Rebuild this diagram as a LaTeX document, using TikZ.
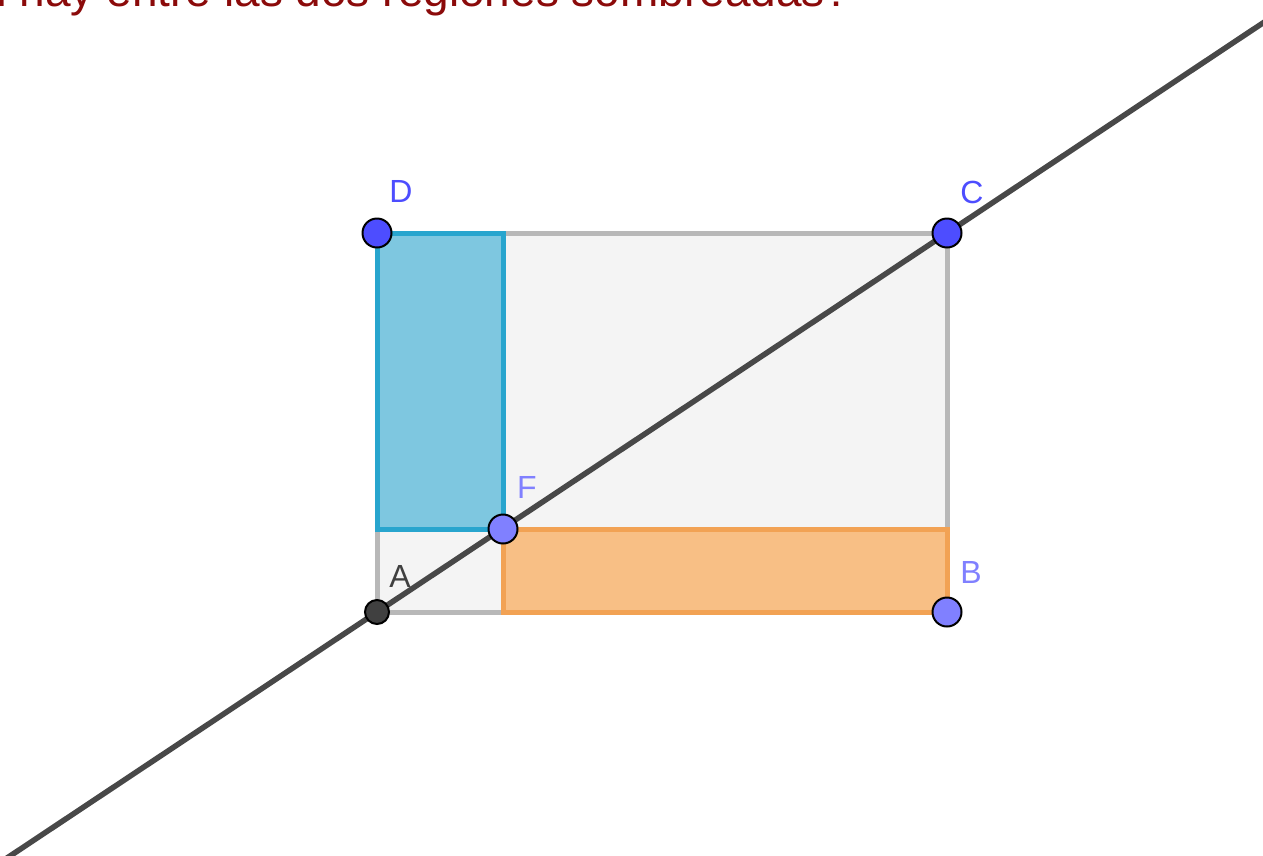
\documentclass[tikz,border=0pt]{standalone}
\usepackage{fontspec}
\setmainfont{Liberation Sans}
\usetikzlibrary{calc}
\definecolor{titlered}{RGB}{139,10,10}
\definecolor{greyfill}{RGB}{244,244,244}
\definecolor{greyedge}{RGB}{184,184,184}
\definecolor{bluefill}{RGB}{126,199,224}
\definecolor{blueedge}{RGB}{40,165,206}
\definecolor{orfill}{RGB}{248,191,133}
\definecolor{oredge}{RGB}{242,162,84}
\definecolor{linegrey}{RGB}{72,72,72}
\definecolor{ptdark}{RGB}{77,77,255}
\definecolor{ptlight}{RGB}{128,128,255}
\definecolor{ptA}{RGB}{64,64,64}
\tikzset{
  rectgrey/.style={fill=greyfill, draw=greyedge, line width=5pt},
  bluebox/.style={fill=bluefill, draw=blueedge, line width=5pt},
  orangebox/.style={fill=orfill, draw=oredge, line width=5pt},
  mainline/.style={draw=linegrey, line width=5.5pt},
  ptbig/.style={circle, draw=black, line width=2pt, inner sep=0pt, minimum size=29pt},
  ptsmall/.style={circle, draw=black, line width=2pt, inner sep=0pt, minimum size=24pt},
  lbl/.style={inner sep=0pt, font=\fontsize{32}{38}\selectfont},
}
\begin{document}
\begin{tikzpicture}[x=1pt,y=-1pt]
\useasboundingbox (0,0) rectangle (1263,855);
\clip (0,0) rectangle (1263,855);
\fill[white] (0,0) rectangle (1263,855);
\coordinate (A) at (377,612);
\coordinate (B) at (947,612);
\coordinate (C) at (947,233);
\coordinate (D) at (377,233);
\coordinate (F) at (503,529);
\coordinate (L1) at ($(A)!-0.65!(C)$);
\coordinate (L2) at ($(A)!1.56!(C)$);
\draw[rectgrey] (A) rectangle (C);
\draw[bluebox] (D) rectangle (F);
\draw[orangebox] (F) rectangle (B);
\draw[mainline] (L1) -- (L2);
\node[ptsmall, fill=ptA] (pA) at (A) {};
\node[ptbig, fill=ptlight] (pB) at (B) {};
\node[ptbig, fill=ptdark] (pC) at (C) {};
\node[ptbig, fill=ptdark] (pD) at (D) {};
\node[ptbig, fill=ptlight] (pF) at (F) {};
\node[lbl, text=ptA] (lA) at (400,576) {A};
\node[lbl, text=ptlight] (lB) at (971,572) {B};
\node[lbl, text=ptdark] (lC) at (972,192) {C};
\node[lbl, text=ptdark] (lD) at (401,191) {D};
\node[lbl, text=ptlight] (lF) at (527,487) {F};
\node[anchor=base east, inner sep=0pt, text=titlered, font=\fontsize{46}{55}\selectfont] (title) at (851,6) {¿Qué relación hay entre las dos regiones sombreadas?};
\end{tikzpicture}
\end{document}
